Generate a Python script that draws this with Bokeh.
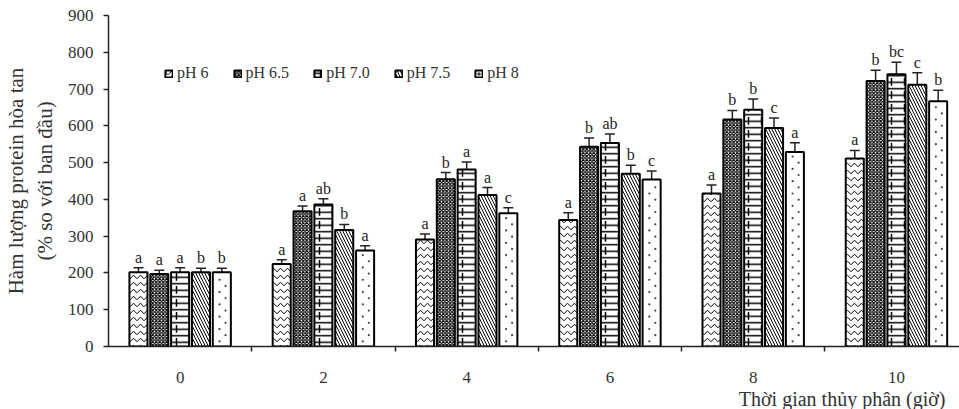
from bokeh.plotting import figure
from bokeh.models import (ColumnDataSource, Range1d, FixedTicker, Whisker, TeeHead,
                          Legend, LegendItem, Title)
from bokeh.core.properties import value
from bokeh.embed import file_html
from bokeh.resources import INLINE

times = ["0", "2", "4", "6", "8", "10"]
series = ["pH 6", "pH 6.5", "pH 7.0", "pH 7.5", "pH 8"]
ph6 = [202, 224, 291, 344, 416, 511]
ph65 = [197, 368, 455, 543, 617, 722]
ph70 = [202, 386, 481, 553, 644, 740]
ph75 = [202, 317, 412, 470, 594, 712]
ph80 = [202, 261, 362, 454, 529, 667]
err6 = [12, 12, 15, 20, 23, 22]
err65 = [10, 14, 18, 24, 25, 29]
err70 = [12, 16, 21, 25, 29, 33]
err75 = [11, 15, 20, 23, 27, 32]
err80 = [11, 13, 15, 23, 25, 30]
let6 = ["a", "a", "a", "a", "a", "a"]
let65 = ["a", "a", "b", "b", "b", "b"]
let70 = ["a", "ab", "a", "ab", "b", "bc"]
let75 = ["b", "b", "a", "b", "c", "c"]
let80 = ["b", "a", "c", "c", "a", "b"]

vals = [ph6, ph65, ph70, ph75, ph80]
errs = [err6, err65, err70, err75, err80]
lets = [let6, let65, let70, let75, let80]

FONT = "Liberation Serif"
TXT = "#333333"

p = figure(width=959, height=409, output_backend="svg", toolbar_location=None,
           x_range=Range1d(0, 5.94), y_range=Range1d(0, 900),
           min_border_left=108, min_border_right=0, min_border_top=15,
           min_border_bottom=62)
p.outline_line_color = None
p.xgrid.grid_line_color = None
p.ygrid.grid_line_color = None

slot = 0.1455
bw = 0.126
hatches = [
    [dict(hatch_pattern="horizontal_wave", hatch_scale=7, hatch_weight=1)],
    [dict(hatch_pattern="diagonal_cross", hatch_scale=3.5, hatch_weight=1.2)],
    [dict(hatch_pattern="horizontal_line", hatch_scale=6.5, hatch_weight=1.5),
     dict(hatch_pattern="vertical_dash", hatch_scale=13, hatch_weight=1.5)],
    [dict(hatch_pattern="left_diagonal_line", hatch_scale=6, hatch_weight=1)],
    [dict(hatch_pattern="blank")],
]

items = []
for k in range(5):
    xs = [i + 0.5 + (k - 2) * slot for i in range(len(times))]
    top = vals[k]
    e = errs[k]
    src = ColumnDataSource(dict(x=xs, top=top, up=[t + d for t, d in zip(top, e)],
                                lo=[t - d for t, d in zip(top, e)], lab=lets[k]))
    rs = []
    for j, h in enumerate(hatches[k]):
        r = p.vbar(x="x", top="top", width=bw, source=src,
                   fill_color="white" if j == 0 else None,
                   line_color="black" if j == len(hatches[k]) - 1 else None,
                   line_width=2, hatch_color="black", **h)
        rs.append(r)
    if k == 4:
        # sparse dot fill of the pH 8 bars
        dx, dy = [], []
        for xc, t in zip(xs, top):
            yv = 14.0
            n = 0
            while yv < t - 8:
                dx.append(xc + (-0.016 if n % 2 == 0 else 0.026))
                dy.append(yv)
                yv += 16.75
                n += 1
        rd = p.scatter(x=dx, y=dy, size=2.2, marker="circle", fill_color="#444444",
                       line_color=None)
        rs.append(rd)
    items.append(LegendItem(label=series[k], renderers=rs))
    w = Whisker(base="x", upper="up", lower="lo", source=src, line_color="#222222",
                line_width=1.5,
                upper_head=TeeHead(size=10, line_width=1.5, line_color="#222222"),
                lower_head=TeeHead(size=10, line_width=1.5, line_color="#222222"))
    p.add_layout(w)
    p.text(x="x", y="up", text="lab", source=src, text_align="center",
           text_baseline="bottom", y_offset=-2, text_font=value(FONT),
           text_font_size="16px", text_color="#222222")

# axes
p.yaxis.ticker = FixedTicker(ticks=list(range(0, 901, 100)))
p.yaxis.axis_line_width = 1.5
p.yaxis.axis_line_color = "#222222"
p.yaxis.major_tick_line_color = "#222222"
p.yaxis.major_tick_line_width = 1.5
p.yaxis.major_tick_out = 5
p.yaxis.major_tick_in = 0
p.yaxis.minor_tick_line_color = None
p.yaxis.major_label_text_font = FONT
p.yaxis.major_label_text_font_size = "17px"
p.yaxis.major_label_text_color = TXT
p.yaxis.major_label_standoff = 10
p.yaxis.axis_label = "Hàm lượng protein hòa tan\n(% so với ban đầu)"
p.yaxis.axis_label_text_font = FONT
p.yaxis.axis_label_text_font_style = "normal"
p.yaxis.axis_label_text_font_size = "21px"
p.yaxis.axis_label_text_color = TXT
p.yaxis.axis_label_standoff = 8

centers = [i + 0.5 for i in range(len(times))]
p.xaxis.ticker = FixedTicker(ticks=centers, minor_ticks=[1, 2, 3, 4, 5])
p.xaxis.major_label_overrides = {c: t for c, t in zip(centers, times)}
p.xaxis.major_tick_line_color = None
p.xaxis.minor_tick_line_color = "#222222"
p.xaxis.minor_tick_line_width = 1.5
p.xaxis.minor_tick_out = 5
p.xaxis.minor_tick_in = 0
p.xaxis.axis_line_width = 1.5
p.xaxis.axis_line_color = "#222222"
p.xaxis.major_label_text_font = FONT
p.xaxis.major_label_text_font_size = "17px"
p.xaxis.major_label_text_color = TXT
p.xaxis.major_label_standoff = 19

xt = Title(text="Thời gian thủy phân (giờ)", align="right", text_font=FONT,
           text_font_size="20px", text_font_style="normal", text_color=TXT,
           offset=14, standoff=0)
p.add_layout(xt, "below")

legend = Legend(items=items, orientation="horizontal", location=(56, 264),
                glyph_width=9, glyph_height=9, label_standoff=4, spacing=24,
                padding=0, margin=0, border_line_color=None,
                background_fill_alpha=0, label_text_font=FONT,
                label_text_font_size="16px", label_text_color=TXT)
p.add_layout(legend, "center")

open("out.html", "w").write(file_html(p, INLINE))
